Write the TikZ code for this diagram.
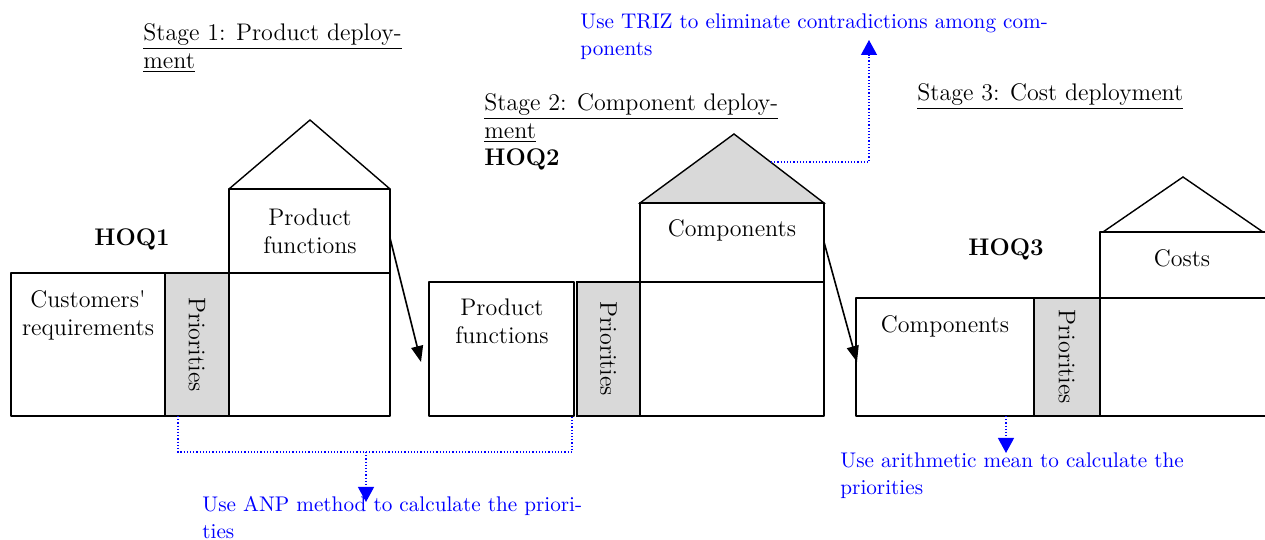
\documentclass[tikz,border=0pt]{standalone}
\usepackage{fontspec}
\usepackage{tkz-euclide}
\usetikzlibrary{arrows.meta}

\tikzset{
  txt/.style={font=\fontsize{12}{14}\selectfont,inner sep=0pt,align=center},
  note/.style={font=\fontsize{10.6}{13.5}\selectfont,inner sep=0pt,
    text=blue,align=left,anchor=north west},
  dotline/.style={blue,densely dotted,line width=.6pt},
  bluetip/.style={-{Triangle[length=7.5pt,width=8pt]}},
  blktip/.style={line width=.8pt,-{Triangle[length=8pt,width=6pt]}}
}

\begin{document}
\begin{tikzpicture}[x=.5pt,y=.5pt]
	\useasboundingbox (0,0) rectangle (1265,540);
	% HOQ1
	\tkzDefPoints{11/124/A,165/124/B,229/124/C,390/124/D,
		11/267/A1,165/267/B1,229/267/C1,390/267/D1,
		229/351/C2,390/351/D2,310/420/E}
	\tkzFillPolygon[draw=black,line width=1pt,fill=gray!30](B,C,C1,B1)
	\tkzDrawPolygon[line width=1pt](A,B,B1,A1)
	\tkzDrawPolygon[line width=1pt](C,D,D1,C1)
	\tkzDrawPolygon[line width=1pt](C1,D1,D2,C2)
	\tkzDrawPolygon[line width=.7pt](C2,E,D2)
	% HOQ2
	\tkzDefPoints{429/124/F,574/124/G,577/124/H,640/124/K,824/124/M,
		429/258/F1,574/258/G1,577/258/H1,640/258/K1,824/258/M1,
		640/337/K2,824/337/M2,734/406/N}
	\tkzFillPolygon[draw=black,line width=.7pt,fill=gray!30](K2,N,M2)
	\tkzDrawPolygon[line width=1pt](F,G,G1,F1)
	\tkzFillPolygon[draw=black,line width=1pt,fill=gray!30](H,K,K1,H1)
	\tkzDrawPolygon[line width=1pt](K,M,M1,K1)
	\tkzDrawPolygon[line width=1pt](K1,M1,M2,K2)
	% HOQ3
	\tkzDefPoints{856/124/P,1034/124/Q,1100/124/R,1270/124/S,
		856/242/P1,1034/242/Q1,1100/242/R1,1270/242/S1,
		1100/308/R2,1270/308/S2,1103/308/T1,1263/308/T2,1183/363/T}
	\tkzDrawPolygon[line width=1pt](P,Q,Q1,P1)
	\tkzFillPolygon[draw=black,line width=1pt,fill=gray!30](Q,R,R1,Q1)
	\tkzDrawPolygon[line width=1pt](R,S,S1,R1)
	\tkzDrawPolygon[line width=1pt](R1,S1,S2,R2)
	\tkzDrawSegments[line width=.7pt](T1,T T,T2)

	% titles
	\node[txt,anchor=north west,align=left] (st1) at (143,517)
		{\underline{Stage 1: Product deploy-}\\\underline{ment}};
	\node[txt,anchor=north west,align=left] (st2) at (484,447)
		{\underline{Stage 2: Component deploy-}\\\underline{ment}};
	\node[txt,anchor=north west,align=left] (st3) at (917,457)
		{\underline{Stage 3: Cost deployment}};
	\node[txt,anchor=north,font=\fontsize{12}{14}\selectfont\bfseries] (hoq1) at (132,312) {HOQ1};
	\node[txt,anchor=north west,font=\fontsize{12}{14}\selectfont\bfseries] (hoq2) at (484,392) {HOQ2};
	\node[txt,anchor=north,font=\fontsize{12}{14}\selectfont\bfseries] (hoq3) at (1006,302) {HOQ3};

	% cell texts
	\node[txt,anchor=north] (cr) at (88,250) {Customers\textquotesingle\\requirements};
	\node[txt,anchor=north] (pf1) at (310,332) {Product\\functions};
	\node[txt,anchor=north] (pf2) at (502,242) {Product\\functions};
	\node[txt,anchor=north] (cp2) at (732,321) {Components};
	\node[txt,anchor=north] (cp3) at (945,225) {Components};
	\node[txt,anchor=north] (cs3) at (1182,291) {Costs};
	\node[txt,rotate=-90] (pr1) at (197,195.5) {Priorities};
	\node[txt,rotate=-90] (pr2) at (608.5,191) {Priorities};
	\node[txt,rotate=-90] (pr3) at (1067,183) {Priorities};

	% notes
	\node[note] (triz) at (580,527)
		{Use TRIZ to eliminate contradictions among com-\\ponents};
	\node[note] (anp) at (202,44)
		{Use ANP method to calculate the priori-\\ties};
	\node[note] (mean) at (840,88)
		{Use arithmetic mean to calculate the\\priorities};

	% links between the houses
	\tkzDefPoints{390/302/W,421/178/W1,824/298/Z,857/178/Z1}
	\draw[blktip] (W) -- (W1);
	\draw[blktip] (Z) -- (Z1);

	% dotted notes
	\tkzDefPoints{178/124/U1,178/88/U2,572/88/U3,572/124/U4,366/88/U5,366/38/U6,
		771/378/V1,869/378/V2,869/500/V3,1006/124/V4,1006/87/V5}
	\draw[dotline] (U1) -- (U2) -- (U3) -- (U4);
	\draw[dotline,bluetip] (U5) -- (U6);
	\draw[dotline,bluetip] (V1) -- (V2) -- (V3);
	\draw[dotline,bluetip] (V4) -- (V5);
\end{tikzpicture}
\end{document}
